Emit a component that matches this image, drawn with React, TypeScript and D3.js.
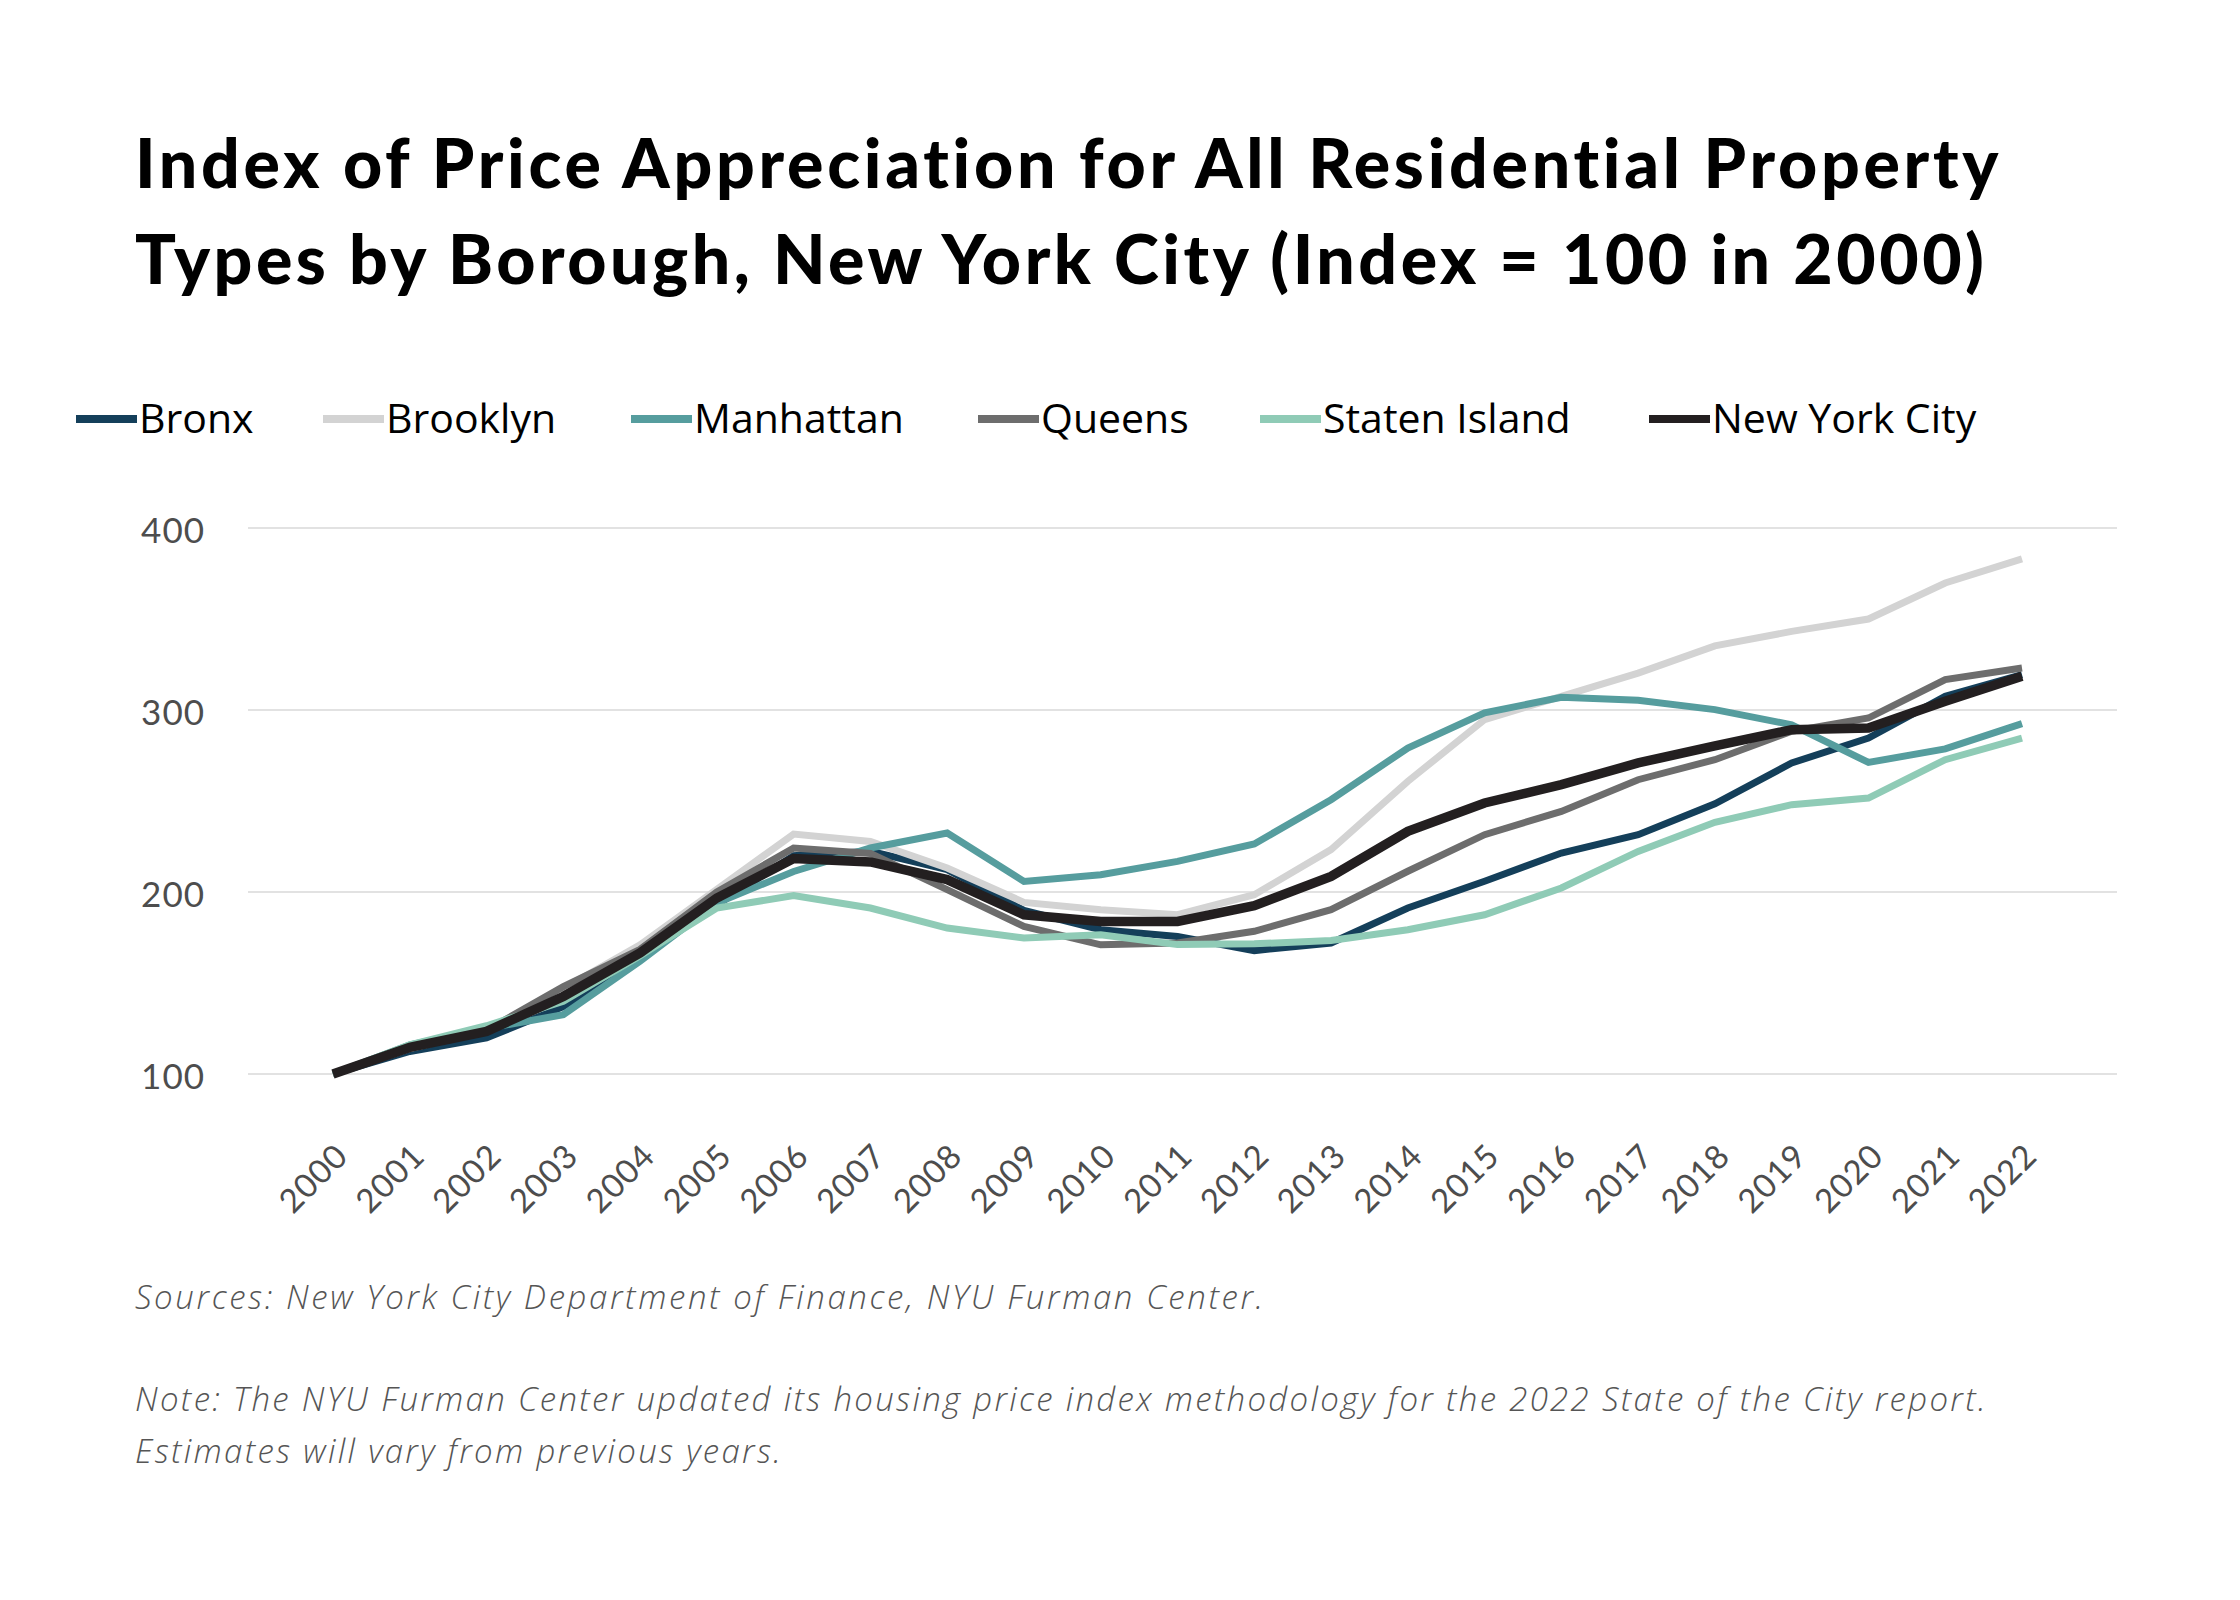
import * as d3 from "d3";

const years = ["2000", "2001", "2002", "2003", "2004", "2005", "2006", "2007", "2008", "2009", "2010", "2011",
    "2012", "2013", "2014", "2015", "2016", "2017", "2018", "2019", "2020", "2021", "2022"];

const bronx = [100, 112.4, 119.8, 137, 164, 193, 220, 222.4, 212.3, 189.9, 179.3, 175.6, 167.8, 172, 191.2, 205.9,
    221.4, 231.5, 248.5, 270.9, 284.6, 307.5, 319.4];
const brooklyn = [100, 114, 124, 147, 171, 201.5, 231.8, 227.8, 213.2, 194.3, 190.3, 187.5, 198.5, 223.3, 260.8,
    294.7, 307.5, 320.3, 335.2, 343.2, 350, 369.8, 383];
const manhattan = [100, 116, 125, 132.6, 162, 194, 211.3, 224.2, 232.4, 205.8, 209.5, 216.8, 226.4, 250.7, 279.1,
    298.4, 307, 305.3, 300.2, 291.9, 271.2, 278.6, 292.5];
const queens = [100, 114, 124, 148, 168.5, 200, 224.2, 221.2, 201.3, 181.1, 171, 172, 178.4, 190.3, 211.4, 231.5,
    244.3, 261.7, 272.7, 288.3, 295.6, 316.7, 323.1];
const statenIsland = [100, 116, 126.5, 140, 165, 191.2, 198, 191.2, 180.2, 174.7, 176.5, 171.1, 171.5, 173.4, 179.3,
    187.5, 202.2, 222.3, 238.3, 248, 251.6, 272.7, 284.6];
const newYorkCity = [100, 114.6, 123.4, 142.6, 166.5, 196.7, 218.4, 216.5, 206.8, 187.5, 183.8, 183.8, 192.5, 208.6,
    233.3, 248.9, 259, 270.9, 280.3, 289.2, 290.1, 304.8, 318.5];

const seriesNames = ["Bronx", "Brooklyn", "Manhattan", "Queens", "Staten Island", "New York City"];
const seriesValues = [bronx, brooklyn, manhattan, queens, statenIsland, newYorkCity];
const seriesColors = ["#143f5a", "#d3d3d3", "#569d9e", "#6d6d6d", "#8fcbb6", "#231f20"];
const legendX = [76, 323, 631, 978, 1260, 1649];
const yTicks = [100, 200, 300, 400];

const titleLines = [
    "Index of Price Appreciation for All Residential Property",
    "Types by Borough, New York City (Index = 100 in 2000)",
];
const sourceText = "Sources: New York City Department of Finance, NYU Furman Center.";
const noteLines = [
    "Note: The NYU Furman Center updated its housing price index methodology for the 2022 State of the City report.",
    "Estimates will vary from previous years.",
];

const width = 2240;
const height = 1600;

export default function App() {
    const xScale = d3.scalePoint<string>().domain(years).range([333, 2022]);
    const yScale = d3.scaleLinear().domain([100, 400]).range([1074, 528]);

    const line = d3.line<number>()
        .x((_, i) => xScale(years[i]) as number)
        .y(d => yScale(d));

    return (
        <>
            <style>{`body{margin:0}`}</style>
            <svg width={width} height={height} viewBox={`0 0 ${width} ${height}`} style={{ display: "block", background: "#fff" }}>
                {/* Title */}
                {titleLines.map((t, i) => (
                    <text key={t} x={135} y={188 + i * 96} fontFamily="Lato" fontWeight={900} fontSize={68}
                          letterSpacing={i === 0 ? 3.7 : 3.5} fill="#000">
                        {t}
                    </text>
                ))}

                {/* Legend */}
                {seriesNames.map((name, i) => (
                    <g key={name} transform={`translate(${legendX[i]}, 419)`}>
                        <line x1={0} x2={61} y1={0} y2={0} stroke={seriesColors[i]} strokeWidth={8} />
                        <text x={63} y={14} fontFamily="Open Sans" fontSize={41} fill="#000">{name}</text>
                    </g>
                ))}

                {/* Gridlines and y labels */}
                {yTicks.map(t => (
                    <g key={t}>
                        <line x1={248} x2={2117} y1={yScale(t)} y2={yScale(t)} stroke="#d9d9d9" strokeWidth={1.5} />
                        <text x={205} y={yScale(t) + 15} textAnchor="end" fontFamily="Lato" fontSize={35}
                              letterSpacing={1} fill="#4d4d4d">{t}</text>
                    </g>
                ))}

                {/* X labels */}
                {years.map(yr => (
                    <text key={yr} transform={`translate(${(xScale(yr) as number) + 17}, 1158) rotate(-45)`}
                          textAnchor="end" fontFamily="Lato" fontSize={33} letterSpacing={1} fill="#4d4d4d">{yr}</text>
                ))}

                {/* Lines */}
                {seriesValues.map((vals, i) => (
                    <path key={seriesNames[i]} d={line(vals) ?? ""} fill="none" stroke={seriesColors[i]}
                          strokeWidth={i === 5 ? 9.5 : 7} strokeLinejoin="miter" />
                ))}

                {/* Footnotes */}
                <text x={135} y={1309} fontFamily="Open Sans" fontStyle="italic" fontWeight={300} fontSize={33}
                      letterSpacing={2.6} fill="#555">
                    {sourceText}
                </text>
                {noteLines.map((t, i) => (
                    <text key={t} x={135} y={1411 + i * 52} fontFamily="Open Sans" fontStyle="italic" fontWeight={300}
                          fontSize={33} letterSpacing={2.3} fill="#555">{t}</text>
                ))}
            </svg>
        </>
    );
}
